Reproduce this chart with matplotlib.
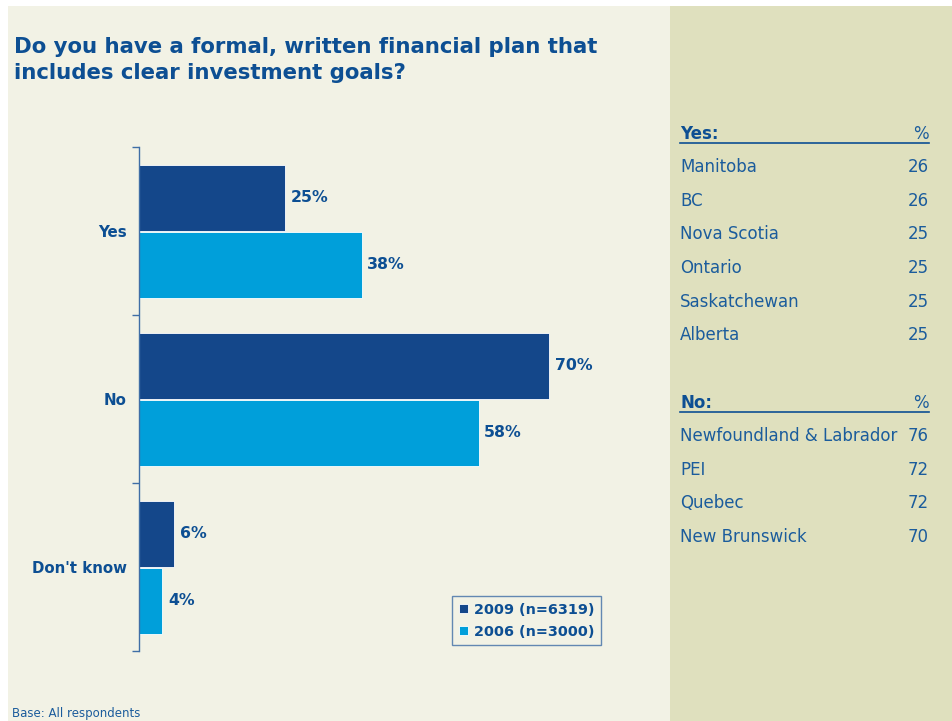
import matplotlib
matplotlib.use("Agg")
import matplotlib.pyplot as plt
from matplotlib.patches import Rectangle
from matplotlib.lines import Line2D

categories = ["Yes", "No", "Don't know"]
values_2009 = [25, 70, 6]
values_2006 = [38, 58, 4]
series_labels = ["2009 (n=6319)", "2006 (n=3000)"]

yes_provinces = ["Manitoba", "BC", "Nova Scotia", "Ontario", "Saskatchewan", "Alberta"]
yes_values = [26, 26, 25, 25, 25, 25]
no_provinces = ["Newfoundland & Labrador", "PEI", "Quebec", "New Brunswick"]
no_values = [76, 72, 72, 70]

title_lines = ["Do you have a formal, written financial plan that",
               "includes clear investment goals?"]
footnote = "Base: All respondents"

W, H = 952, 721
DARK = "#14478A"
LIGHT = "#009FDA"
TXT = "#0D4F93"
TXT2 = "#1B5C9C"
AXC = "#3F6EA6"
FONT = "DejaVu Sans"

fig = plt.figure(figsize=(W / 100, H / 100), dpi=100, facecolor="white")

def fx(x):
    return x / W

def fy(y):
    return 1 - y / H

# backgrounds
fig.patches.append(Rectangle((fx(8), 0), fx(670) - fx(8), fy(6), transform=fig.transFigure,
                             facecolor="#F2F2E5", edgecolor="none", zorder=-10))
fig.patches.append(Rectangle((fx(670), 0), 1 - fx(670), fy(6), transform=fig.transFigure,
                             facecolor="#DFE0BE", edgecolor="none", zorder=-10))

for i, line in enumerate(title_lines):
    fig.text(fx(14), fy(53 + 26 * i), line, ha="left", va="baseline", fontsize=15.3,
             fontweight="bold", color=TXT, family=FONT)

# main axes
ax_left, ax_right, ax_top, ax_bot = 139, 620, 147, 651
ax = fig.add_axes([fx(ax_left), fy(ax_bot), fx(ax_right - ax_left), (ax_bot - ax_top) / H])
ax.set_facecolor("none")
px_per_unit = (549 - 139) / 70.0
ax.set_xlim(0, (ax_right - ax_left) / px_per_unit)
ax.set_ylim(2.5, -0.5)

bh = 66 / 168
off = 33.5 / 168
ypos = list(range(len(categories)))
b1 = ax.barh([y - off for y in ypos], values_2009, height=bh, color=DARK, edgecolor="white",
             linewidth=0.6, label=series_labels[0])
b2 = ax.barh([y + off for y in ypos], values_2006, height=bh, color=LIGHT, edgecolor="white",
             linewidth=0.6, label=series_labels[1])

for bars, vals in ((b1, values_2009), (b2, values_2006)):
    for rect, v in zip(bars, vals):
        ax.annotate(f"{v}%", (rect.get_width(), rect.get_y() + rect.get_height() / 2),
                    xytext=(4.0, 0), textcoords="offset points", ha="left", va="center",
                    fontsize=11.3, fontweight="bold", color=TXT, family=FONT)

for s in ("top", "right", "bottom"):
    ax.spines[s].set_visible(False)
ax.spines["left"].set_color(AXC)
ax.spines["left"].set_linewidth(1.0)
ax.set_xticks([])
ax.set_yticks([-0.5, 0.5, 1.5, 2.5])
ax.set_yticklabels([])
ax.tick_params(axis="y", length=5, width=1.0, color=AXC, direction="out")
ax.set_yticks(ypos, minor=True)
ax.set_yticklabels(categories, minor=True)
ax.tick_params(axis="y", which="minor", length=0, pad=9)
for lbl in ax.get_yticklabels(minor=True):
    lbl.set_fontweight("bold")
    lbl.set_fontsize(10.8)
    lbl.set_color(TXT)
    lbl.set_family(FONT)

leg = ax.legend(loc="lower right", frameon=True, fancybox=False, handlelength=0.6, handleheight=0.6,
                handletextpad=0.45, borderpad=0.45, labelspacing=0.55, borderaxespad=0,
                prop={"family": FONT, "weight": "bold", "size": 10.4},
                bbox_to_anchor=((601 - ax_left) / (ax_right - ax_left), (ax_bot - 645) / (ax_bot - ax_top)),
                bbox_transform=ax.transAxes)
leg.get_frame().set_edgecolor(AXC)
leg.get_frame().set_facecolor("#F2F2E5")
leg.get_frame().set_linewidth(1.0)
for t in leg.get_texts():
    t.set_color(TXT)

# right panel tables
RX0, RX1 = 680, 929
row_h = 33.7

def header(y, label):
    fig.text(fx(RX0), fy(y), label, ha="left", va="center", fontsize=12, fontweight="bold",
             color=TXT, family=FONT)
    fig.text(fx(RX1), fy(y), "%", ha="right", va="center", fontsize=12, color=TXT2, family=FONT)
    fig.add_artist(Line2D([fx(RX0), fx(RX1)], [fy(y + 8.5), fy(y + 8.5)], transform=fig.transFigure,
                          color=TXT, linewidth=1.2))

def rows(y0, names, vals):
    for i, (n, v) in enumerate(zip(names, vals)):
        y = y0 + i * row_h
        fig.text(fx(RX0), fy(y), n, ha="left", va="center", fontsize=12, color=TXT2, family=FONT)
        fig.text(fx(RX1), fy(y), str(v), ha="right", va="center", fontsize=12, color=TXT2, family=FONT)

header(134, "Yes:")
rows(167, yes_provinces, yes_values)
header(403, "No:")
rows(436, no_provinces, no_values)

fig.text(fx(12), fy(714), footnote, ha="left", va="center", fontsize=8.5, color=TXT2, family=FONT)

fig.savefig("out.png", dpi=100, facecolor=fig.get_facecolor())
